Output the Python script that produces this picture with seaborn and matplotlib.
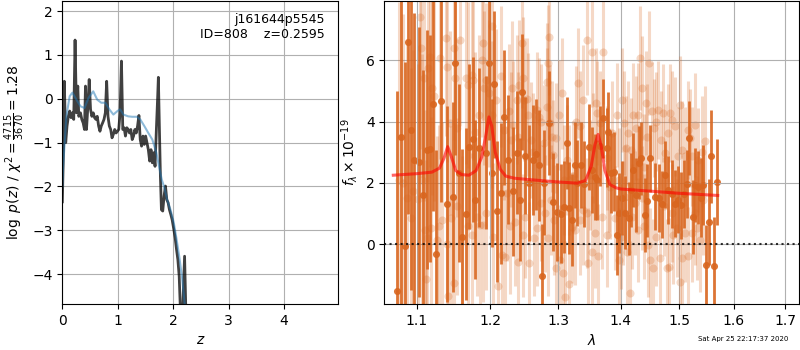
import numpy as np
import matplotlib
matplotlib.use("Agg")
import matplotlib.pyplot as plt
from matplotlib.ticker import FixedLocator, NullLocator, FormatStrFormatter
import seaborn as sns

# p(z) panel
z_pz = [0.000, 0.024, 0.036, 0.061, 0.085, 0.109, 0.133, 0.158, 0.182, 0.206,
        0.230, 0.255, 0.279, 0.297, 0.327, 0.352, 0.376, 0.400, 0.418, 0.436,
        0.461, 0.485, 0.509, 0.533, 0.558, 0.582, 0.606, 0.630, 0.655, 0.679,
        0.703, 0.727, 0.752, 0.776, 0.800, 0.824, 0.848, 0.873, 0.897, 0.921,
        0.945, 0.970, 0.994, 1.018, 1.042, 1.067, 1.091, 1.115, 1.139, 1.164,
        1.188, 1.212, 1.236, 1.261, 1.285, 1.309, 1.333, 1.358, 1.382, 1.406,
        1.430, 1.455, 1.479, 1.503, 1.527, 1.552, 1.576, 1.600, 1.624, 1.648,
        1.673, 1.697, 1.721, 1.733, 1.752, 1.770, 1.788, 1.812, 1.836, 1.861,
        1.885, 1.909, 1.933, 1.958, 1.982, 2.012, 2.036, 2.061, 2.085, 2.109,
        2.133, 2.170, 2.206, 2.230]
lnp = [-2.35, -1.00, 0.40, -1.00, -0.62, -0.40, -0.28, -0.43, -0.32, -0.47,
       1.34, -0.32, 0.29, -0.40, -0.32, -0.47, -0.55, -0.70, 0.29, -0.70,
       -0.17, 0.44, -0.24, -0.40, -0.32, -0.43, -0.47, -0.40, -0.62, -0.74,
       -0.62, -0.55, -0.47, -0.32, 0.40, -0.40, -0.62, -0.70, -0.89, -0.81,
       -0.70, -0.78, -0.74, -0.70, -0.32, 0.86, -0.70, -0.66, -0.85, -0.66,
       -0.70, -0.78, -0.70, -0.93, -0.85, -0.70, -0.78, -0.62, -0.38, -0.93,
       -1.08, -0.85, -1.04, -0.85, -1.00, -1.16, -1.42, -1.16, -1.46, -1.23,
       -1.54, -0.70, 0.06, 0.49, -0.70, -1.77, -2.53, -2.56, -2.22, -1.99,
       -2.30, -2.37, -2.53, -2.64, -2.76, -2.98, -3.17, -3.44, -3.67, -4.05,
       -4.90, -4.90, -3.59, -4.90]

z_smooth = [0.000, 0.012, 0.073, 0.133, 0.182, 0.255, 0.327, 0.400, 0.473, 0.558,
            0.630, 0.703, 0.776, 0.848, 0.921, 0.994, 1.042, 1.103, 1.188, 1.261,
            1.345, 1.406, 1.479, 1.552, 1.624, 1.697, 1.745, 1.794, 1.842, 1.891,
            1.952, 2.012, 2.061, 2.109, 2.158, 2.194, 2.218, 2.240]
lnp_smooth = [-2.00, -1.60, -0.40, 0.06, 0.14, -0.02, -0.17, -0.21, 0.02, 0.17,
              -0.02, -0.09, -0.09, -0.24, -0.36, -0.28, -0.24, -0.36, -0.40, -0.41,
              -0.41, -0.47, -0.62, -0.78, -0.93, -1.23, -1.54, -1.84, -2.03, -2.30,
              -2.53, -2.83, -3.20, -3.59, -4.05, -4.50, -4.80, -5.00]

# spectrum panel, first grism (dark points)
lam_a = [1.0751, 1.0798, 1.0849, 1.0892, 1.0931, 1.0965,
         1.1035, 1.1078, 1.1140, 1.1175, 1.1219, 1.1258, 1.1320,
         1.1406, 1.1487, 1.1514, 1.1569, 1.1601, 1.1661, 1.1707, 1.1753, 1.1785, 1.1837, 1.1935,
         1.1986, 1.2019, 1.2052, 1.2100, 1.2153, 1.2196, 1.2258, 1.2332, 1.2380, 1.2429, 1.2458,
         1.2508, 1.2557, 1.2617, 1.2666, 1.2711, 1.2756, 1.2786, 1.2858, 1.2928, 1.2989,
         1.3041, 1.3093, 1.3144, 1.3175, 1.3216, 1.3258, 1.3300, 1.3358, 1.3411, 1.3484,
         1.3532, 1.3575, 1.3613, 1.3656, 1.3715, 1.3769, 1.3796, 1.3835, 1.3889, 1.3933, 1.3977, 1.4021,
         1.4076, 1.4132, 1.4171, 1.4210, 1.4260, 1.4310, 1.4345, 1.4402, 1.4436, 1.4499, 1.4573, 1.4642, 1.4700, 1.4753, 1.4811, 1.4869,
         1.4922, 1.4987, 1.5040, 1.5088, 1.5135, 1.5182, 1.5242, 1.5291, 1.5345, 1.5393, 1.5436, 1.5484, 1.5533, 1.5582, 1.5631, 1.5693]
flux_a = [-1.52, 3.51, -0.05, 6.59, 3.71, 2.75,
          2.68, 1.59, 3.08, 3.11, 4.57, -0.33, 4.67,
          1.32, 1.53, 5.90, 2.32, 0.22, 0.98, 3.18, 3.42, 1.45, 3.15, 2.99,
          5.90, 2.32, 5.22, 1.08, 1.66, 4.14, 2.75, 1.72, 2.99, 1.45, 4.96,
          2.89, 1.99, 2.75, 2.93, 2.57, -1.03, 2.01, 3.95, 1.37, 1.05,
          1.00, 1.21, 3.29, 1.18, 0.78, 2.59, 1.99, 2.59, 1.95, 3.18,
          2.42, 2.20, 2.10, 3.21, 4.10, 3.15, 3.65, 2.33, 2.37, 0.29, 1.01, 1.50,
          1.03, 0.84, 1.77, 2.42, 1.61, 2.66, 2.80, 0.96, 1.42, 2.80, 1.55, 1.50, 1.30, 2.27, 1.77, 1.63,
          1.32, 1.45, 1.27, 1.63, 1.96, 3.47, 0.88, 1.93, 1.85, 1.52, 1.93, -0.67, 0.73, 2.86, -0.71, 2.02]
err_a = [6.5, 6.2, 6.0, 5.6, 5.2, 4.8,
         4.4, 4.1, 3.9, 3.7, 3.5, 3.4, 3.3,
         3.2, 3.1, 3.0, 2.9, 2.9, 2.8, 2.7, 2.7, 2.6, 2.6, 2.5,
         2.5, 2.4, 2.4, 2.3, 2.3, 2.2, 2.1, 2.1, 2.0, 2.0, 1.9,
         1.9, 1.9, 1.8, 1.8, 1.8, 1.7, 1.7, 1.7, 1.6, 1.6,
         1.6, 1.5, 1.5, 1.5, 1.5, 1.4, 1.4, 1.4, 1.4, 1.4,
         1.4, 1.4, 1.3, 1.3, 1.3, 1.3, 1.3, 1.3, 1.3, 1.3, 1.3, 1.2,
         1.2, 1.2, 1.2, 1.2, 1.2, 1.2, 1.2, 1.2, 1.2, 1.1, 1.1, 1.1, 1.1, 1.1, 1.1, 1.1,
         1.1, 1.1, 1.1, 1.1, 1.1, 1.2, 1.2, 1.2, 1.2, 1.3, 1.3, 1.3, 1.4, 1.5, 1.6, 1.4]

# second grism (light points)
lam_b = [1.0768, 1.0827, 1.0870, 1.0922, 1.0957,
         1.1022, 1.1044, 1.1057, 1.1074, 1.1096, 1.1109, 1.1118, 1.1140, 1.1153, 1.1175, 1.1193, 1.1201, 1.1232, 1.1263, 1.1298,
         1.1307, 1.1339, 1.1388, 1.1397, 1.1406, 1.1415, 1.1442, 1.1451, 1.1496, 1.1501, 1.1514, 1.1532, 1.1541, 1.1578,
         1.1601, 1.1661, 1.1684, 1.1693, 1.1739, 1.1748, 1.1762, 1.1790, 1.1809, 1.1846, 1.1855, 1.1879, 1.1893, 1.1902, 1.1916, 1.1935, 1.1944, 1.1981,
         1.2019, 1.2028, 1.2043, 1.2081, 1.2115, 1.2148, 1.2163, 1.2196, 1.2210, 1.2234, 1.2273, 1.2283, 1.2297, 1.2317, 1.2332, 1.2356, 1.2380, 1.2395, 1.2405, 1.2419, 1.2453, 1.2468, 1.2473, 1.2488,
         1.2508, 1.2528, 1.2552, 1.2567, 1.2592, 1.2627, 1.2637, 1.2676, 1.2686, 1.2716, 1.2736, 1.2746, 1.2787, 1.2797, 1.2827, 1.2837, 1.2842, 1.2852, 1.2868, 1.2878, 1.2888, 1.2908, 1.2928, 1.2933, 1.2969, 1.2974,
         1.3015, 1.3031, 1.3067, 1.3072, 1.3093, 1.3108, 1.3134, 1.3165, 1.3175, 1.3216, 1.3237, 1.3269, 1.3279, 1.3305, 1.3342, 1.3347, 1.3390, 1.3395, 1.3453, 1.3458, 1.3474,
         1.3500, 1.3527, 1.3532, 1.3554, 1.3581, 1.3591, 1.3618, 1.3634, 1.3661, 1.3688, 1.3715, 1.3769, 1.3774, 1.3813, 1.3824, 1.3851, 1.3906, 1.3933, 1.3966, 1.3977,
         1.4010, 1.4021, 1.4043, 1.4054, 1.4071, 1.4088, 1.4110, 1.4127, 1.4155, 1.4177, 1.4188, 1.4210, 1.4238, 1.4249, 1.4283, 1.4294, 1.4322, 1.4350, 1.4356, 1.4390, 1.4396, 1.4425, 1.4447, 1.4465, 1.4482, 1.4493,
         1.4522, 1.4550, 1.4561, 1.4590, 1.4596, 1.4636, 1.4666, 1.4677, 1.4724, 1.4730, 1.4753, 1.4782, 1.4799, 1.4828, 1.4840, 1.4869, 1.4881, 1.4898, 1.4928, 1.4957, 1.4975,
         1.5016, 1.5022, 1.5052, 1.5058, 1.5105, 1.5111, 1.5158, 1.5164, 1.5194, 1.5224, 1.5236, 1.5285, 1.5291, 1.5327, 1.5345, 1.5375, 1.5406, 1.5436, 1.5460]
flux_b = [2.10, 2.01, 1.50, 0.84, 1.72,
          1.47, 7.40, 6.39, 2.10, 5.41, 0.47, -1.14, 0.20, 5.74, 6.12, 0.54, 5.09, 4.82, 0.14, 0.58,
          6.07, 0.79, 6.72, 0.00, 5.79, -1.68, 3.95, 0.85, 6.39, -1.27, 5.41, 3.78, 1.23, 6.66,
          0.09, 5.41, 0.58, 5.20, 5.52, 0.29, 5.36, 3.67, 0.90, 4.22, 0.63, 6.01, 0.62, 6.55, 5.09, 1.01, 5.36, 4.92,
          7.10, 4.22, 0.25, 4.71, -1.36, 5.47, -0.35, 3.73, -0.43, 1.66, 4.33, 0.58, 3.40, 5.09, 3.89, 0.74, 4.71, 3.51, -0.57, 5.20, 6.55, 5.41, 0.29, 4.71,
          0.90, 4.73, 4.22, -0.62, 3.40, 3.02, 0.20, 4.38, 0.54, 4.16, 1.34, 3.97, 3.29, 1.01, 4.49, 5.30, 0.20, 5.90, 6.75, 3.95, 1.45, 3.51, 2.91, 0.79, 3.46, -0.78,
          4.22, -0.51, 4.92, -0.95, 2.10, -1.71, 2.75, 2.10, -1.29, 0.55, 2.21, 0.47, 4.00, 5.25, 3.84, 0.79, 4.71, 1.12, 6.66, 1.01, -0.62,
          2.26, 6.28, -0.24, 3.13, 0.36, 4.60, 4.27, -0.40, 3.95, 0.90, 6.28, 2.80, 0.29, 2.10, 1.88, 3.62, 0.85, 4.22, -0.51, 2.10,
          0.25, 4.71, 1.01, 3.95, 1.55, 3.13, -0.24, 3.62, -1.58, 3.08, 0.90, 4.22, 1.34, 3.78, 0.47, 4.22, 6.07, 5.09, 1.50, 2.53, 0.58, 4.60, 3.51, -0.02, 5.90, -0.51,
          4.33, -0.78, 3.78, 0.25, 4.00, 4.38, -0.46, 3.40, 4.27, 1.23, 2.97, -0.78, 3.62, -0.73, 4.27, 1.01, 4.05, 0.30, 3.84, 0.52, 2.86,
          4.54, -1.22, -0.46, 3.08, 2.86, 0.36, 3.73, -0.40, 3.46, 0.36, 2.86, 3.89, 1.01, 0.52, 2.75, 0.14, 3.02, 1.45, 3.35]
err_b = [5.8, 5.5, 5.2, 4.9, 4.6,
         4.4, 4.3, 4.2, 4.1, 4.0, 3.9, 3.9, 3.8, 3.7, 3.6, 3.6, 3.5, 3.4, 3.4, 3.3,
         3.3, 3.2, 3.2, 3.1, 3.1, 3.1, 3.0, 3.0, 3.0, 2.9, 2.9, 2.9, 2.9, 2.8,
         2.8, 2.8, 2.7, 2.7, 2.7, 2.7, 2.6, 2.6, 2.6, 2.6, 2.6, 2.5, 2.5, 2.5, 2.5, 2.5, 2.5, 2.4,
         2.4, 2.4, 2.4, 2.3, 2.3, 2.3, 2.3, 2.3, 2.2, 2.2, 2.2, 2.2, 2.2, 2.2, 2.1, 2.1, 2.1, 2.1, 2.1, 2.1, 2.1, 2.0, 2.0, 2.0,
         2.0, 2.0, 2.0, 2.0, 1.9, 1.9, 1.9, 1.9, 1.9, 1.9, 1.9, 1.9, 1.9, 1.9, 1.9, 1.9, 1.9, 1.9, 1.9, 1.9, 1.8, 1.8, 1.8, 1.8, 1.8, 1.8,
         1.8, 1.8, 1.8, 1.8, 1.8, 1.8, 1.8, 1.8, 1.8, 1.8, 1.8, 1.8, 1.8, 1.8, 1.8, 1.8, 1.8, 1.8, 1.8, 1.8, 1.8,
         1.8, 1.8, 1.8, 1.8, 1.8, 1.8, 1.7, 1.7, 1.7, 1.7, 1.7, 1.7, 1.7, 1.7, 1.7, 1.7, 1.7, 1.7, 1.7, 1.7,
         1.7, 1.7, 1.7, 1.7, 1.7, 1.7, 1.7, 1.7, 1.7, 1.7, 1.7, 1.7, 1.7, 1.7, 1.7, 1.7, 1.7, 1.7, 1.7, 1.7, 1.7, 1.7, 1.7, 1.7, 1.7, 1.7,
         1.6, 1.6, 1.6, 1.6, 1.6, 1.6, 1.6, 1.6, 1.6, 1.6, 1.6, 1.6, 1.6, 1.6, 1.6, 1.6, 1.6, 1.6, 1.6, 1.6, 1.6,
         1.6, 1.6, 1.6, 1.6, 1.6, 1.6, 1.6, 1.6, 1.6, 1.6, 1.6, 1.7, 1.7, 1.7, 1.7, 1.7, 1.8, 1.8, 1.8]

# best-fit model
lam_model = [1.070, 1.100, 1.120, 1.130, 1.136, 1.141, 1.146, 1.152, 1.160, 1.170,
             1.180, 1.188, 1.194, 1.198, 1.202, 1.207, 1.214, 1.222, 1.235, 1.260,
             1.300, 1.330, 1.343, 1.352, 1.358, 1.363, 1.368, 1.374, 1.382, 1.392,
             1.400, 1.450, 1.500, 1.550, 1.570]
flux_model = [2.25, 2.30, 2.35, 2.48, 2.80, 3.18, 2.85, 2.40, 2.27, 2.25,
              2.40, 2.85, 3.60, 4.15, 3.85, 3.00, 2.45, 2.22, 2.15, 2.10,
              2.03, 1.99, 2.08, 2.55, 3.25, 3.58, 3.20, 2.40, 1.95, 1.84,
              1.80, 1.73, 1.66, 1.61, 1.59]

lam_ticks = [1.1, 1.2, 1.3, 1.4, 1.5, 1.6, 1.7]
z_ticks = [0, 1, 2, 3, 4]
pz_ticks = [-4, -3, -2, -1, 0, 1, 2]
flux_ticks = [0, 2, 4, 6]

orange = "#d9661f"

fig = plt.figure(figsize=(8, 3.5), dpi=100)
ax1 = fig.add_axes([0.0779, 0.1314, 0.345, 0.8657])
ax2 = fig.add_axes([0.4804, 0.1314, 0.5188, 0.8657])

# left: redshift probability
sns.lineplot(x=z_pz, y=lnp, ax=ax1, color="k", alpha=0.75, lw=2, sort=False)
sns.lineplot(x=z_smooth, y=lnp_smooth, ax=ax1, color="tab:blue", alpha=0.5, lw=1.5, sort=False)
ax1.set_xlim(0, 4.98)
ax1.set_ylim(-4.68, 2.23)
ax1.set_xticks(z_ticks)
ax1.set_yticks(pz_ticks)
ax1.grid(True)
ax1.set_xlabel(r"$z$")
ax1.set_ylabel(r"$\log\ p(z)$" + " / " + r"$\chi^2=\frac{4715}{3670}=1.28$")
ax1.text(0.95, 0.96, "j161644p5545\nID=808    z=0.2595", ha="right", va="top",
         transform=ax1.transAxes, fontsize=9)

# right: 1D spectrum
ax2.errorbar(lam_b, flux_b, yerr=err_b, fmt="none", ecolor=orange, elinewidth=2.2, alpha=0.25)
sns.scatterplot(x=lam_b, y=flux_b, ax=ax2, color=orange, alpha=0.25, s=34, linewidth=0)
ax2.errorbar(lam_a, flux_a, yerr=err_a, fmt="none", ecolor=orange, elinewidth=2.0, alpha=0.9)
sns.scatterplot(x=lam_a, y=flux_a, ax=ax2, color=orange, alpha=0.9, s=26, linewidth=0)
sns.lineplot(x=lam_model, y=flux_model, ax=ax2, color="red", alpha=0.6, lw=2.2, sort=False)
ax2.axhline(0, color="k", ls=":", lw=1.5, alpha=0.8)

ax2.set_xscale("log")
ax2.set_xlim(1.0587, 1.729)
ax2.set_ylim(-1.95, 7.93)
ax2.xaxis.set_major_locator(FixedLocator(lam_ticks))
ax2.xaxis.set_major_formatter(FormatStrFormatter("%.1f"))
ax2.xaxis.set_minor_locator(NullLocator())
ax2.set_yticks(flux_ticks)
ax2.grid(True)
ax2.set_xlabel(r"$\lambda$")
ax2.set_ylabel(r"$f_\lambda\times 10^{-19}$")

fig.text(0.985, 0.022, "Sat Apr 25 22:17:37 2020", ha="right", va="bottom", fontsize=5)

fig.savefig("out.png", dpi=100)
